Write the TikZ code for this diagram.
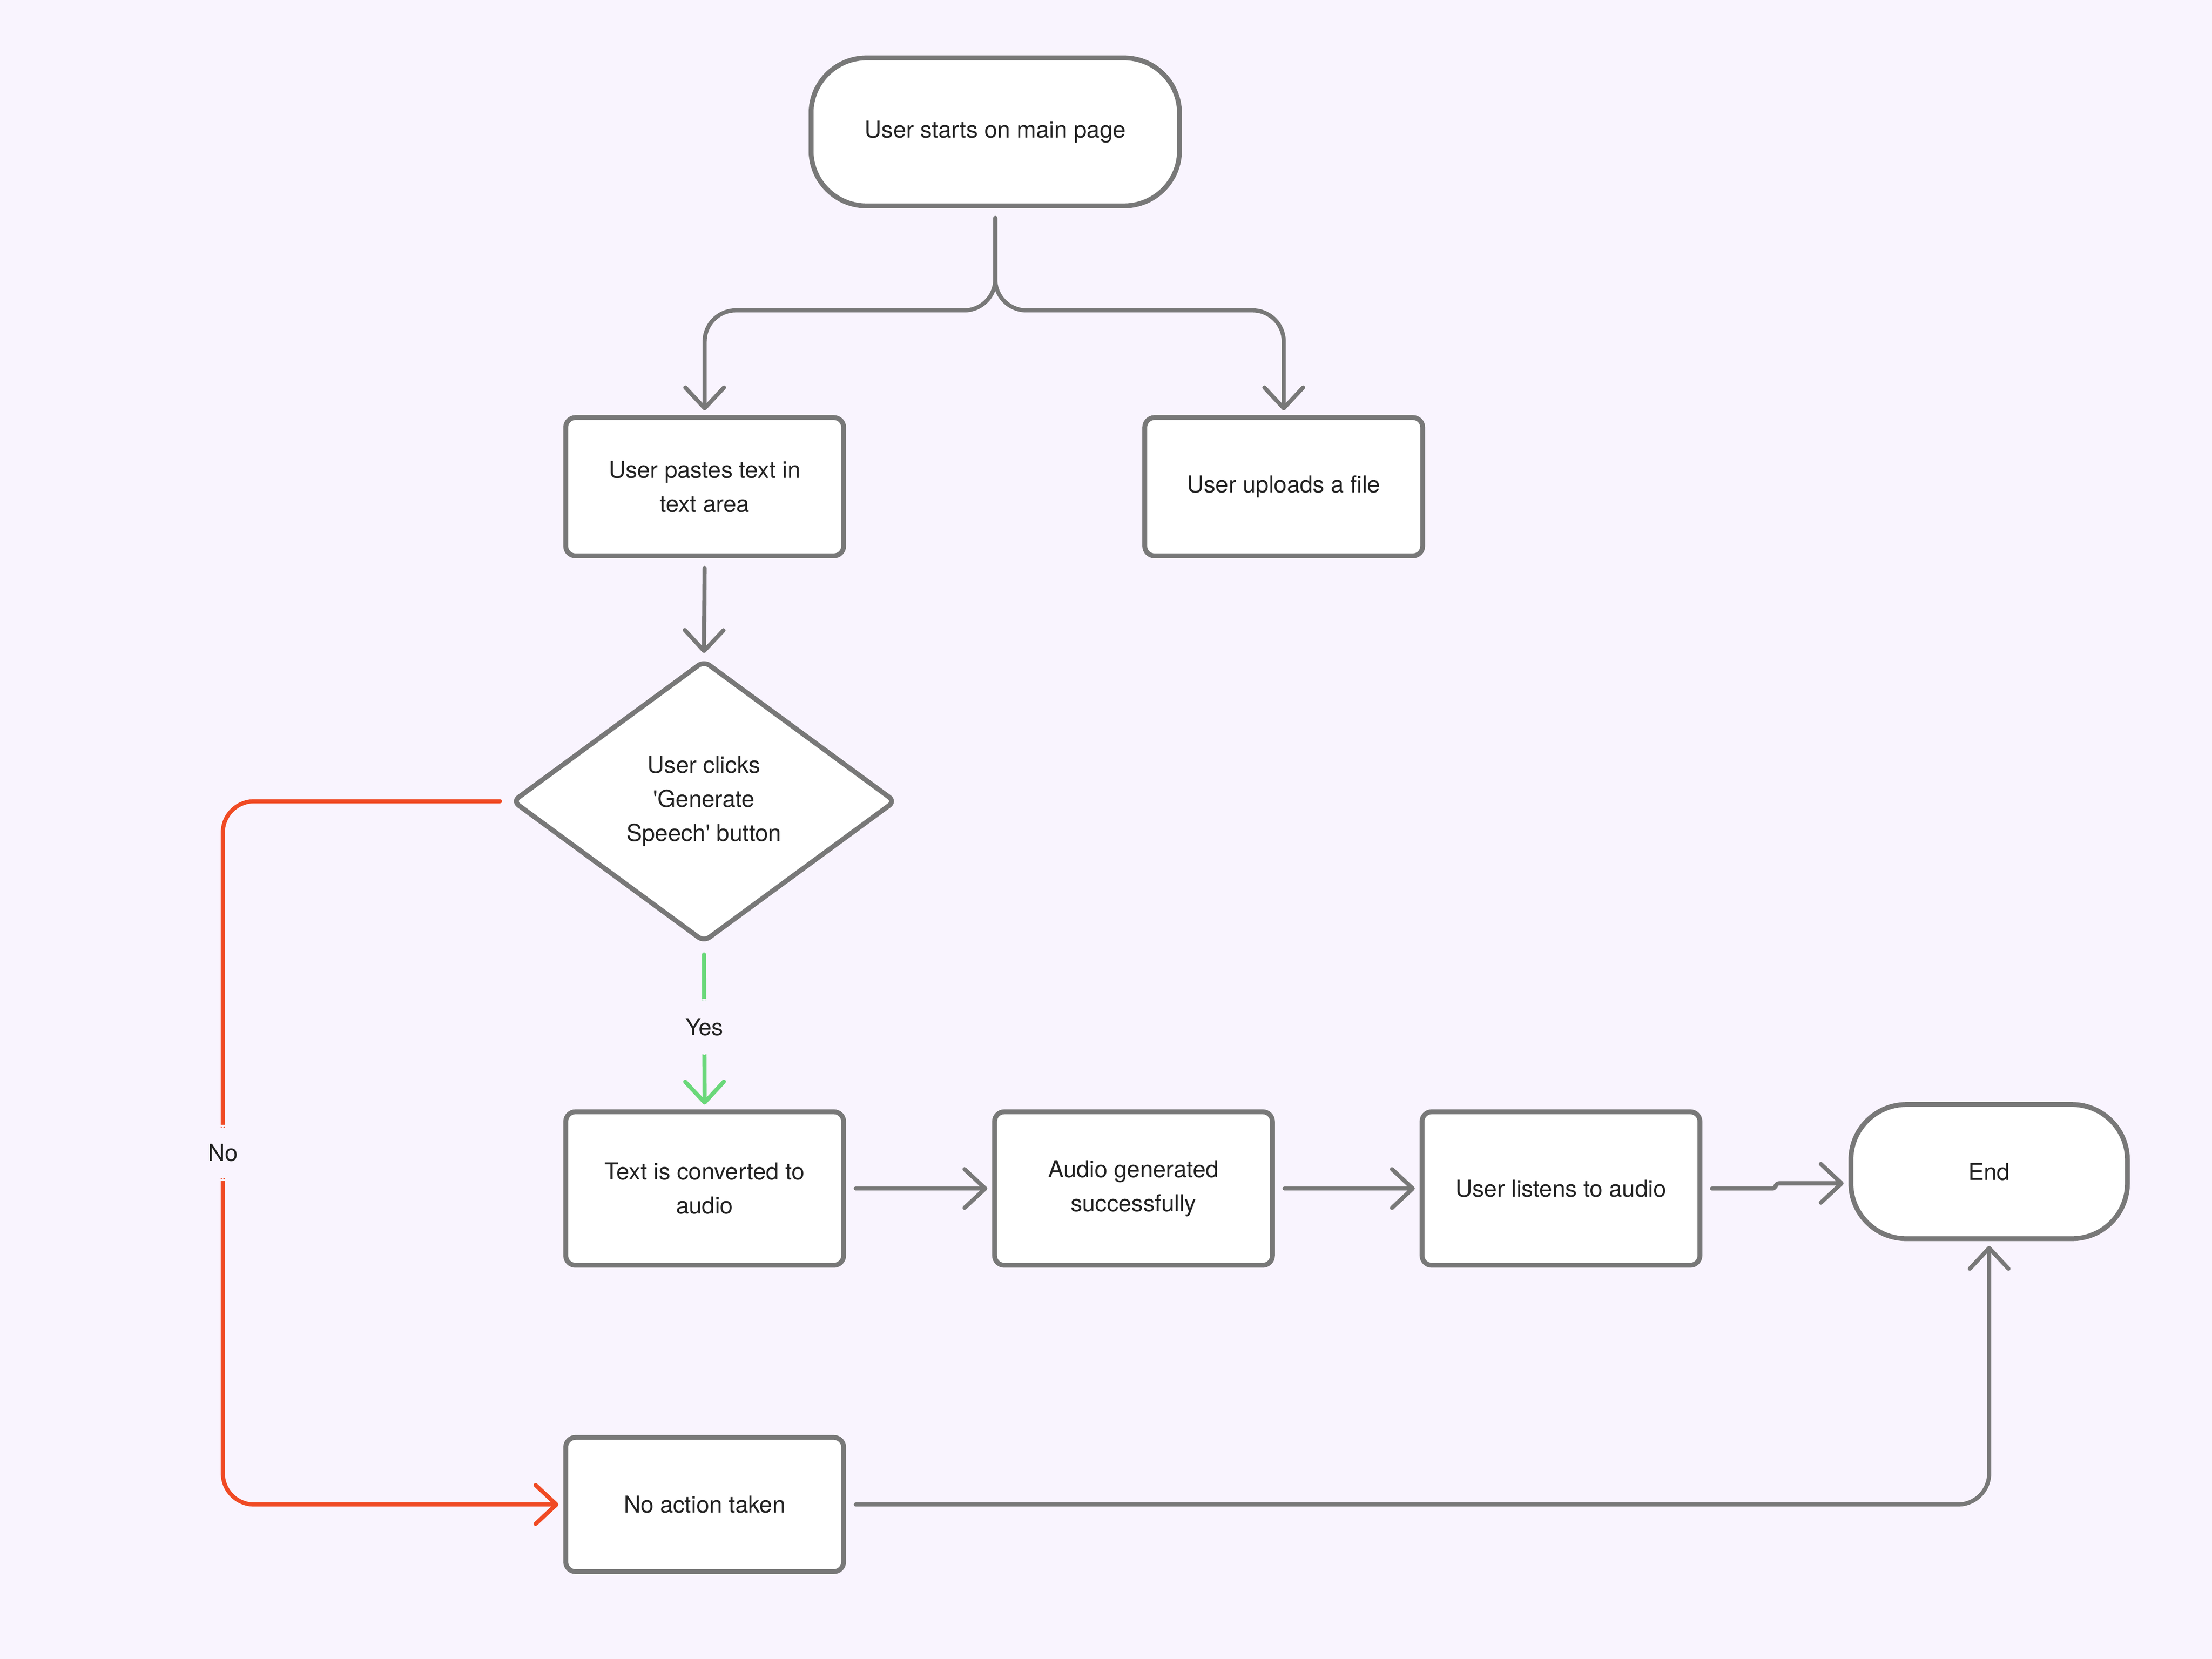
\documentclass[tikz,border=0pt]{standalone}
\usepackage{fontspec}
\setmainfont{TeX Gyre Heros}
\usetikzlibrary{shapes.geometric, arrows.meta}

\definecolor{bgcol}{HTML}{F9F4FE}
\definecolor{linecol}{HTML}{787878}
\definecolor{nored}{HTML}{F04A24}
\definecolor{yesgreen}{HTML}{6AD87A}
\definecolor{txtcol}{HTML}{222222}

\begin{document}
\begin{tikzpicture}
        [font=\fontsize{9.6}{14}\selectfont, text=txtcol,
        terminal/.style={draw=linecol, fill=white, line width=2pt, rounded corners=0.8cm, align=center},
        process/.style={draw=linecol, fill=white, line width=2pt, rounded corners=0.14cm, minimum width=4.02cm, align=center},
        decision/.style={diamond, draw=linecol, fill=white, line width=2pt, rounded corners=0.1cm, minimum width=5.55cm, minimum height=4.08cm, inner sep=0pt, align=center},
        edge/.style={draw=linecol, line width=1.7pt, line cap=round, -{Straight Barb[length=3mm, width=5.6mm, round]}, shorten <=0.14cm, shorten >=0.07cm, rounded corners=0.45cm},
        yesedge/.style={edge, draw=yesgreen},
        noedge/.style={edge, draw=nored},
        lbl/.style={fill=bgcol, inner xsep=2pt, inner ysep=0.28cm}]

        \useasboundingbox (0,0) rectangle (32,-24);
        \fill[bgcol] (0,0) rectangle (32,-24);

        \node[terminal, minimum width=5.33cm, minimum height=2.14cm] (start) at (14.398,-1.908) {User starts on main page};
        \node[process, minimum height=2cm] (paste) at (10.194,-7.041) {User pastes text in\\text area};
        \node[process, minimum height=2cm] (upload) at (18.571,-7.041) {User uploads a file};
        \node[decision] (click) at (10.184,-11.592) {User clicks\\\textquotesingle Generate\\Speech\textquotesingle\ button};
        \node[process, minimum height=2.22cm] (convert) at (10.194,-17.194) {Text is converted to\\audio};
        \node[process, minimum height=2.22cm] (audio) at (16.398,-17.194) {Audio generated\\successfully};
        \node[process, minimum height=2.22cm] (listen) at (22.582,-17.194) {User listens to audio};
        \node[terminal, minimum width=4cm, minimum height=1.94cm] (done) at (28.776,-16.949) {End};
        \node[process, minimum height=1.94cm] (noaction) at (10.194,-21.765) {No action taken};

        % turning points
        \coordinate (split) at (14.398,-4.49);
        \coordinate (noturn) at (3.224,-11.592);

        % start splits into the two inputs
        \draw[edge] (start.south) -- (split) -| (paste.north);
        \draw[edge] (start.south) -- (split) -| (upload.north);
        \draw[edge] (paste.south) -- (click.north);

        % decision edges
        \draw[yesedge] (click.south) -- node[lbl] {Yes} (convert.north);
        \draw[noedge] (click.west) -- (noturn) |- node[lbl, pos=0.25] {No} (noaction.west);

        % main row
        \draw[edge] (convert.east) -- (audio.west);
        \draw[edge] (audio.east) -- (listen.west);
        \draw[edge, rounded corners=0.05cm] (listen.east) -- ++(1.06,0) |- ([yshift=-0.17cm]done.west);
        \draw[edge] (noaction.east) -| (done.south);

\end{tikzpicture}
\end{document}
